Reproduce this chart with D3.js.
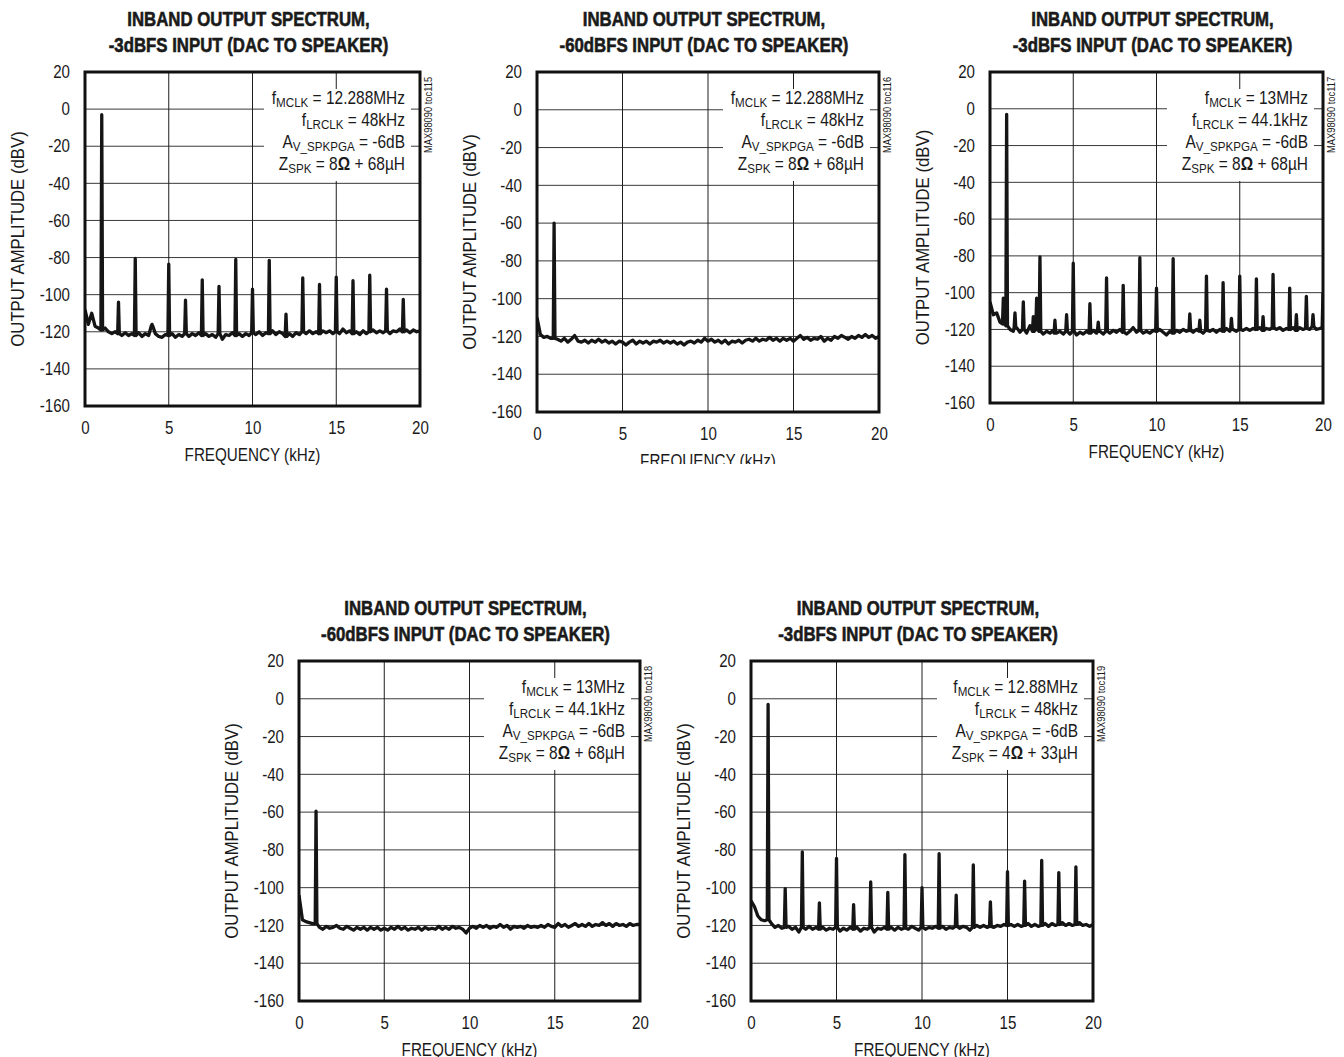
<!DOCTYPE html>
<html>
<head>
<meta charset="utf-8">
<script src="https://cdn.jsdelivr.net/npm/d3@7"></script>
<style>
  html, body { margin: 0; padding: 0; background: #fff; }
  svg { display: block; }
  text { font-family: "Liberation Sans", Arial, sans-serif; fill: #1a1a1a; }
</style>
</head>
<body>
<svg id="chart" width="1344" height="1057"></svg>
<script>
// ---------------- DATA ----------------
const titleLine1 = "INBAND OUTPUT SPECTRUM,";
const titleLines2 = [
  "-3dBFS INPUT (DAC TO SPEAKER)",
  "-60dBFS INPUT (DAC TO SPEAKER)",
  "-3dBFS INPUT (DAC TO SPEAKER)",
  "-60dBFS INPUT (DAC TO SPEAKER)",
  "-3dBFS INPUT (DAC TO SPEAKER)"
];
const figureCodes = ["MAX98090 toc115", "MAX98090 toc116", "MAX98090 toc117", "MAX98090 toc118", "MAX98090 toc119"];
const xTicks = [0, 5, 10, 15, 20];
const yTicks = [20, 0, -20, -40, -60, -80, -100, -120, -140, -160];
const xLabel = "FREQUENCY (kHz)";
const yLabel = "OUTPUT AMPLITUDE (dBV)";
const floorStep = 0.2; // kHz between noise-floor readings

// legends: [main, subscript, rest]
const legend1 = [["f", "MCLK", " = 12.288MHz"], ["f", "LRCLK", " = 48kHz"], ["A", "V_SPKPGA", " = -6dB"], ["Z", "SPK", " = 8Ω + 68µH"]];
const legend2 = [["f", "MCLK", " = 12.288MHz"], ["f", "LRCLK", " = 48kHz"], ["A", "V_SPKPGA", " = -6dB"], ["Z", "SPK", " = 8Ω + 68µH"]];
const legend3 = [["f", "MCLK", " = 13MHz"], ["f", "LRCLK", " = 44.1kHz"], ["A", "V_SPKPGA", " = -6dB"], ["Z", "SPK", " = 8Ω + 68µH"]];
const legend4 = [["f", "MCLK", " = 13MHz"], ["f", "LRCLK", " = 44.1kHz"], ["A", "V_SPKPGA", " = -6dB"], ["Z", "SPK", " = 8Ω + 68µH"]];
const legend5 = [["f", "MCLK", " = 12.88MHz"], ["f", "LRCLK", " = 48kHz"], ["A", "V_SPKPGA", " = -6dB"], ["Z", "SPK", " = 4Ω + 33µH"]];

// noise floor readings (dBV) at 0, 0.2, 0.4 ... 20 kHz
const floor1 = [-108,-116,-110,-117,-118,-119,-118,-120,-121,-120,-121,-122,-120.5,-122,-121,-122,-120.5,-122.5,-121,-122,
  -117,-121,-122.5,-123,-121.5,-122,-121,-123,-121.5,-122.5,-121,-122.5,-121,-122,-120.5,-122,-121,-122.5,-121.5,-123,
  -121,-124,-121.5,-122,-120.5,-122,-121,-122.5,-121,-122,-120.5,-121.5,-120,-122,-120.5,-121,-119.5,-121.5,-120,-121,
  -122.5,-121,-122.5,-120.5,-121.5,-120,-121,-119.5,-121,-120,-121,-119.5,-120.5,-119.5,-121,-120,-121,-118.5,-120.5,-119.5,
  -121,-120,-121.5,-119.5,-121,-120,-119,-120.5,-119.5,-120.5,-119.5,-121,-119.5,-120,-118.5,-120,-119,-120.5,-119,-120,-119.5];
const floor2 = [-110,-119,-120.5,-120,-121,-121,-121.5,-122.5,-121,-123,-121.5,-119.5,-122.5,-123,-122,-123.5,-122,-123,-121.5,-123,
  -122,-123.5,-122.5,-124,-122.5,-123,-124.5,-123,-122,-124,-122.5,-123.5,-122.5,-124,-122.5,-123,-122,-123.5,-122.5,-123.5,
  -122.5,-124,-123,-124.5,-123,-122.5,-123.5,-122,-123,-121,-122.5,-121.5,-123,-122,-123.5,-122,-124,-122.5,-123,-122,
  -123.5,-122,-121.5,-122.5,-121,-122.5,-121.5,-122,-120.5,-122,-121,-122.5,-121,-122,-121,-122.5,-121,-119.5,-121.5,-120.5,
  -122,-121,-121.5,-120,-122.5,-121,-122,-120,-121,-119.5,-120.5,-121.5,-120,-121,-119.5,-120.5,-119,-120.5,-119.5,-121,-120];
const floor3 = [-105,-112,-111,-116,-117,-118,-120,-121,-119,-121.5,-120,-122,-118,-121,-120,-121,-122.5,-121,-122,-120.5,
  -122,-121,-122.5,-121,-122.5,-121,-123,-121.5,-122.5,-121,-122,-120.5,-122,-121,-122.5,-121,-122,-120.5,-121.5,-120,
  -121.5,-122.5,-121,-119,-121.5,-120.5,-122,-121,-122,-120.5,-121,-120,-121.5,-123,-121,-122,-120.5,-121.5,-120,-121,
  -120.5,-121.5,-120,-121,-122,-120.5,-121,-120,-121.5,-120,-121,-119.5,-121,-120,-121,-120,-120.5,-119.5,-120.5,-119.5,
  -120,-119,-120.5,-119.5,-120,-119,-120,-119,-120.5,-119.5,-120,-119,-120.5,-119,-120,-119.5,-120,-118.5,-120,-119.5,-119];
const floor4 = [-104,-117,-118,-118.5,-119,-119,-121,-122,-120.5,-121.5,-121,-120,-121.5,-122,-120.5,-121.5,-122.5,-121,-122,-121,
  -122.5,-121,-122,-121,-122.5,-121.5,-122.5,-121,-122,-120.5,-122,-121,-122.5,-121.5,-122,-121,-122.5,-121,-122,-121.5,
  -122,-120.5,-122,-121,-122,-120.5,-121.5,-121,-122,-124,-121.5,-120.5,-121.5,-120,-121,-120,-121.5,-120.5,-121,-119.5,
  -121,-120,-122,-120.5,-121,-120.5,-121.5,-120,-121,-120.5,-121,-120,-121,-119.5,-120.5,-121,-119,-120.5,-119.5,-121,
  -120,-119,-120.5,-119.5,-120.5,-119,-120.5,-119.5,-120,-118.5,-120,-119,-120.5,-119,-120,-119.5,-120.5,-119,-120,-119.5,-119.5];
const floor5 = [-107,-110,-115,-117,-117.5,-117,-119,-121,-120,-121.5,-121,-120.5,-122,-121,-123.5,-121,-122,-120.5,-122,-121,
  -122,-121,-122.5,-121.5,-122,-121,-123,-121.5,-122.5,-121,-122,-121,-123,-121.5,-122,-121,-123.5,-121.5,-122,-121,
  -122,-121,-122.5,-121,-122,-121.5,-122,-120.5,-121.5,-122.5,-121,-122,-121,-121.5,-120.5,-121.5,-120.5,-122,-121,-121.5,
  -120.5,-121.5,-120.5,-121,-122.5,-121,-120,-121,-120,-121,-120.5,-121,-120,-120.5,-119.5,-120,-119.5,-120.5,-119.5,-120.5,
  -120,-119,-120.5,-119.5,-120.5,-120,-119,-120.5,-119,-120,-119.5,-118.5,-120,-119,-120,-119.5,-118.5,-120,-119.5,-120.5,-119.5];

// spectral lines: [frequency kHz, peak dBV]
const spikes1 = [[1,-3],[2,-104],[3,-80.5],[4,-116],[5,-83.5],[6,-103],[7,-92],[8,-95.5],[9,-81],[10,-97],[11,-81.5],
  [12,-110.5],[13,-91],[14,-94.5],[15,-90.5],[16,-92.5],[17,-89.5],[18,-97],[19,-102.5]];
const spikes2 = [[1,-60]];
const spikes3 = [[0.8,-103],[1,-3],[1.5,-111],[2,-105],[2.6,-113],[2.8,-103],[3,-80.5],[3.9,-115],[4.6,-112],[5,-84],
  [6,-106],[6.5,-116],[7,-92],[8,-96],[9,-81],[10,-97.5],[11,-81.5],[12,-111.5],[12.6,-115],[13,-91],[14,-94.5],
  [14.5,-114],[15,-91],[16,-92.5],[16.4,-113],[17,-90],[18,-97.5],[18.4,-112],[19,-102],[19.4,-112],[20,-100]];
const spikes4 = [[1,-59.5]];
const spikes5 = [[1,-3],[2,-100.5],[3,-81],[4,-108],[5,-84.5],[6,-109],[7,-97],[8,-102.5],[9,-82.5],[10,-100],[11,-82],
  [12,-104],[13,-88],[14,-107.5],[15,-91.5],[16,-96.5],[17,-85.5],[18,-92],[19,-89]];

// ---------------- LAYOUT ----------------
const panels = [
  { x0: 85,  x1: 420,  y0: 72,  y1: 406,  floor: floor1, spikes: spikes1, legend: legend1, t2: titleLines2[0], code: figureCodes[0], clipBottom: null },
  { x0: 537, x1: 879,  y0: 72,  y1: 412,  floor: floor2, spikes: spikes2, legend: legend2, t2: titleLines2[1], code: figureCodes[1], clipBottom: 464 },
  { x0: 990, x1: 1323, y0: 72,  y1: 403,  floor: floor3, spikes: spikes3, legend: legend3, t2: titleLines2[2], code: figureCodes[2], clipBottom: null },
  { x0: 299, x1: 640,  y0: 661, y1: 1001, floor: floor4, spikes: spikes4, legend: legend4, t2: titleLines2[3], code: figureCodes[3], clipBottom: null },
  { x0: 751, x1: 1093, y0: 661, y1: 1001, floor: floor5, spikes: spikes5, legend: legend5, t2: titleLines2[4], code: figureCodes[4], clipBottom: null }
];

function buildSeries(floor, spikes) {
  const pts = floor.map((v, i) => ({ f: +(i * floorStep).toFixed(2), v }));
  const kept = pts.filter(p => !spikes.some(s => Math.abs(s[0] - p.f) < 0.09));
  spikes.forEach(s => {
    const base = floor[Math.min(floor.length - 1, Math.round(s[0] / floorStep))];
    kept.push({ f: s[0] - 0.05, v: base });
    kept.push({ f: s[0], v: s[1] });
    if (s[0] + 0.05 <= 20) kept.push({ f: s[0] + 0.05, v: base });
  });
  kept.sort((a, b) => a.f - b.f);
  return kept;
}

// condensed text helper (horizontal squeeze of a real text element)
function ntext(sel, x, y, txt, size, sx, anchor, rot) {
  return sel.append("text")
    .attr("transform", `translate(${x},${y})` + (rot ? ` rotate(${rot})` : "") + ` scale(${sx},1)`)
    .attr("text-anchor", anchor || "start")
    .attr("font-size", size)
    .text(txt);
}

const svg = d3.select("#chart");
const defs = svg.append("defs");

panels.forEach((p, idx) => {
  const g = svg.append("g");
  if (p.clipBottom) {
    defs.append("clipPath").attr("id", "pclip" + idx)
      .append("rect").attr("x", p.x0 - 100).attr("y", 0).attr("width", p.x1 - p.x0 + 200).attr("height", p.clipBottom);
    g.attr("clip-path", `url(#pclip${idx})`);
  }
  const x = d3.scaleLinear().domain([0, 20]).range([p.x0, p.x1]);
  const y = d3.scaleLinear().domain([-160, 20]).range([p.y1, p.y0]);
  const w = p.x1 - p.x0, h = p.y1 - p.y0;

  // gridlines
  g.append("g").selectAll("line").data(yTicks).join("line")
    .attr("x1", p.x0).attr("x2", p.x1).attr("y1", d => y(d)).attr("y2", d => y(d))
    .attr("stroke", "#3a3a3a").attr("stroke-width", 1);
  g.append("g").selectAll("line").data(xTicks).join("line")
    .attr("x1", d => x(d)).attr("x2", d => x(d)).attr("y1", p.y0).attr("y2", p.y1)
    .attr("stroke", "#1e1e1e").attr("stroke-width", 1);

  // legend white box (hides gridlines)
  g.append("rect").attr("x", p.x1 - 156).attr("y", p.y0 + 17).attr("width", 147).attr("height", 92).attr("fill", "#fff");

  // data
  const clipId = "plot" + idx;
  defs.append("clipPath").attr("id", clipId).append("rect").attr("x", p.x0).attr("y", p.y0).attr("width", w).attr("height", h);
  const series = buildSeries(p.floor, p.spikes);
  g.append("path").datum(series)
    .attr("clip-path", `url(#${clipId})`)
    .attr("fill", "none").attr("stroke", "#151515").attr("stroke-width", 3.3)
    .attr("stroke-linejoin", "round")
    .attr("d", d3.line().x(d => x(d.f)).y(d => y(d.v)));

  // frame
  g.append("rect").attr("x", p.x0).attr("y", p.y0).attr("width", w).attr("height", h)
    .attr("fill", "none").attr("stroke", "#111").attr("stroke-width", 3);

  // axes labels (d3 axes, text squeezed horizontally)
  const yAxis = d3.axisLeft(y).tickValues(yTicks).tickSize(0).tickFormat(d => d);
  const ya = g.append("g").attr("transform", `translate(${p.x0},0)`).call(yAxis);
  ya.select(".domain").remove();
  ya.selectAll("text").attr("x", 0).attr("transform", "translate(-15,0) scale(0.84,1)")
    .attr("font-size", 18).attr("font-family", "Liberation Sans").attr("fill", "#1a1a1a");

  const xAxis = d3.axisBottom(x).tickValues(xTicks).tickSize(0).tickFormat(d => d);
  const xa = g.append("g").attr("transform", `translate(0,${p.y1})`).call(xAxis);
  xa.select(".domain").remove();
  xa.selectAll("text").attr("y", 0).attr("dy", null).attr("transform", "translate(0,28) scale(0.84,1)")
    .attr("font-size", 18).attr("font-family", "Liberation Sans").attr("fill", "#1a1a1a");

  ntext(g, (p.x0 + p.x1) / 2, p.y1 + 55, xLabel, 17.5, 0.87, "middle");
  ntext(g, p.x0 - 61, (p.y0 + p.y1) / 2, yLabel, 18, 0.93, "middle", -90);

  // titles (heavy condensed look)
  const cx = (p.x0 + p.x1) / 2 - 4;
  ntext(g, cx, p.y0 - 46, titleLine1, 20, 0.84, "middle")
    .attr("font-weight", "bold").attr("stroke", "#1a1a1a").attr("stroke-width", 0.6);
  ntext(g, cx, p.y0 - 20, p.t2, 20, 0.84, "middle")
    .attr("font-weight", "bold").attr("stroke", "#1a1a1a").attr("stroke-width", 0.6);

  // legend text
  p.legend.forEach((row, i) => {
    const t = g.append("text")
      .attr("transform", `translate(${p.x1 - 15},${p.y0 + 32 + i * 22}) scale(0.86,1)`)
      .attr("text-anchor", "end").attr("font-size", 18);
    t.append("tspan").text(row[0]);
    t.append("tspan").attr("font-size", 13.5).attr("dy", 3).text(row[1]);
    const parts = row[2].split("Ω");
    t.append("tspan").attr("dy", -3).text(parts[0]);
    if (parts.length > 1) {
      t.append("tspan").attr("font-weight", "bold").text("Ω");
      t.append("tspan").text(parts[1]);
    }
  });

  // figure code
  ntext(g, p.x1 + 12, p.y0 + 81, p.code, 11, 0.85, "start", -90).attr("fill", "#333");
});
</script>
</body>
</html>
